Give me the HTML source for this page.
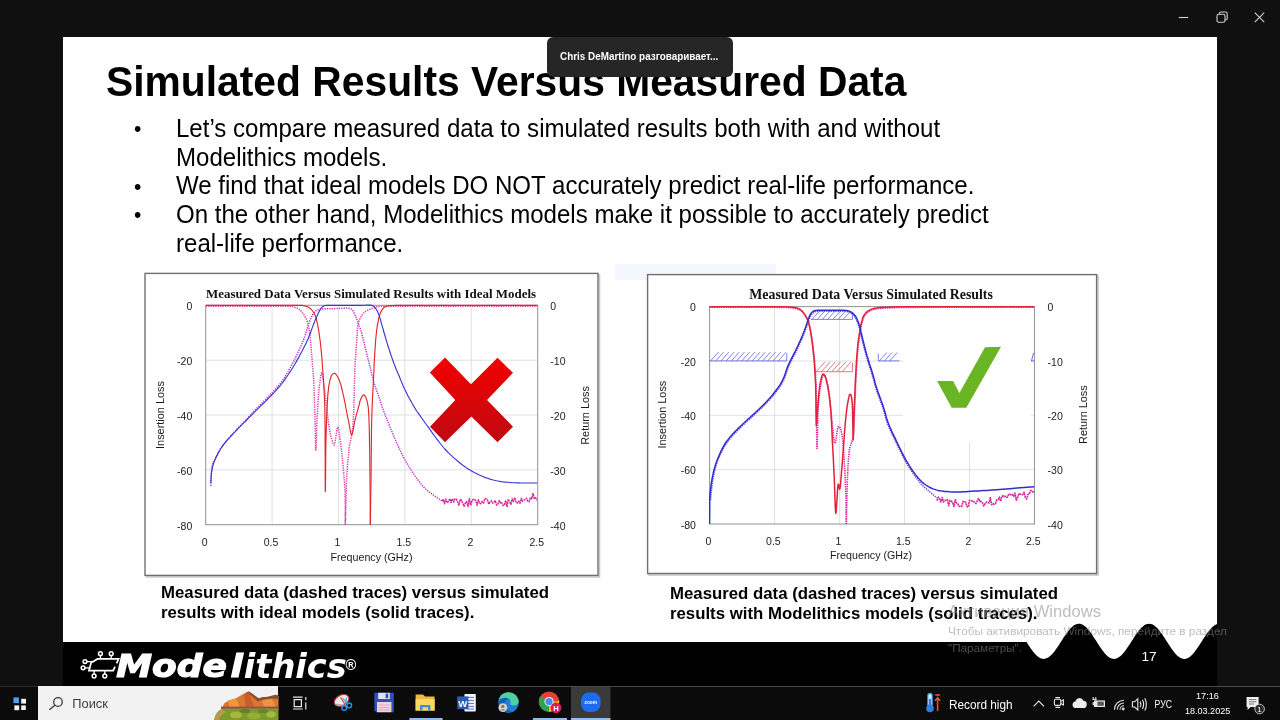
<!DOCTYPE html>
<html lang="ru">
<head>
<meta charset="utf-8">
<title>Simulated Results Versus Measured Data</title>
<style>
*{margin:0;padding:0;box-sizing:border-box}
html,body{width:1280px;height:720px;overflow:hidden;background:#101010;font-family:"Liberation Sans",sans-serif}
.abs{position:absolute}
#slide{left:63px;top:37px;width:1154px;height:605px;background:#ffffff}
#band{left:63px;top:642px;width:1154px;height:44px;background:#000}
#title{left:106px;top:57.6px;transform:scaleY(1.035);transform-origin:0 0;font-weight:bold;font-size:40.8px;line-height:47px;color:#000;white-space:nowrap;letter-spacing:0}
.bl{left:176px;transform:scaleY(1.035);transform-origin:0 0;font-size:24.06px;line-height:28.9px;color:#000;white-space:nowrap}
.dot{left:134.1px;margin-top:-0.7px;transform:scaleY(1.035);transform-origin:0 0;font-size:21px;line-height:29.6px;color:#000}
.cap{font-weight:bold;font-size:16.8px;line-height:20.3px;color:#000;white-space:nowrap}
#tip{left:547px;top:37px;width:186px;height:40px;background:#262626;border-radius:6px;color:#fff;font-weight:bold;font-size:10.7px;line-height:39.4px;padding-left:13px;white-space:nowrap}
#tip span{display:inline-block;transform:scaleX(0.925);transform-origin:0 50%}
#taskbar{left:0;top:686px;width:1280px;height:34px;background:#0b0b0b}
#search{left:38px;top:686px;width:240px;height:34px;background:#f2f2f2;overflow:hidden}
#charts{left:0;top:0}
</style>
</head>
<body>
<div id="slide" class="abs"></div>
<div id="band" class="abs"></div>

<div id="title" class="abs">Simulated Results Versus Measured Data</div>

<div class="abs dot" style="top:114px">•</div>
<div class="abs bl" style="top:114px">Let’s compare measured data to simulated results both with and without</div>
<div class="abs bl" style="top:142.7px">Modelithics models.</div>
<div class="abs dot" style="top:171.4px">•</div>
<div class="abs bl" style="top:171.4px">We find that ideal models DO NOT accurately predict real-life performance.</div>
<div class="abs dot" style="top:200.1px">•</div>
<div class="abs bl" style="top:200.1px">On the other hand, Modelithics models make it possible to accurately predict</div>
<div class="abs bl" style="top:228.8px">real-life performance.</div>

<div class="abs cap" style="left:161px;top:583px">Measured data (dashed traces) versus simulated<br>results with ideal models (solid traces).</div>
<div class="abs cap" style="left:670px;top:584px">Measured data (dashed traces) versus simulated<br>results with Modelithics models (solid traces).</div>

<!--CHARTS_BEGIN-->
<svg id="charts" class="abs" width="1280" height="720" viewBox="0 0 1280 720" font-family="Liberation Sans, sans-serif">
<rect x="615" y="264" width="161" height="16" fill="#f3f6fc"/>
<rect x="146.5" y="274.9" width="453" height="302.0" fill="none" stroke="#c9c9c9" stroke-width="1.6"/>
<rect x="145" y="273.4" width="453" height="302.0" fill="#fff" stroke="#6f6f6f" stroke-width="1.4"/>
<path d="M272.1,305.3 V524.7 M338.5,305.3 V524.7 M404.9,305.3 V524.7 M471.3,305.3 V524.7 M205.7,360.2 H537.7 M205.7,415.0 H537.7 M205.7,469.9 H537.7 " stroke="#dcdcdc" stroke-width="0.9" fill="none"/>
<rect x="205.7" y="305.3" width="332.00000000000006" height="219.40000000000003" fill="none" stroke="#969696" stroke-width="1.05"/>
<!--c1-->
<clipPath id="cp1"><rect x="205.7" y="303.8" width="332.00000000000006" height="221.90000000000003"/></clipPath>
<g clip-path="url(#cp1)">
<path d="M205.7,306.2 L210.6,306.2 L217.4,306.2 L225.5,306.2 L234.0,306.2 L242.5,306.2 L250.0,306.2 L257.1,306.2 L264.4,306.2 L271.5,306.2 L278.1,306.3 L283.8,306.3 L288.3,306.4 L291.3,306.5 L292.9,306.6 L293.7,306.8 L294.1,307.0 L294.3,307.2 L295.0,307.5 L295.9,307.8 L296.8,308.1 L297.6,308.4 L298.4,308.8 L299.2,309.3 L300.0,310.0 L300.9,310.9 L301.7,311.9 L302.6,313.0 L303.5,314.2 L304.3,315.4 L305.0,316.7 L305.7,318.0 L306.3,319.2 L306.9,320.5 L307.4,321.9 L307.9,323.4 L308.3,325.0 L308.7,326.7 L309.0,328.4 L309.3,330.2 L309.5,332.2 L309.7,334.3 L310.0,336.7 L310.3,339.3 L310.6,342.2 L310.9,345.3 L311.1,348.5 L311.4,351.8 L311.7,355.0 L312.0,358.3 L312.3,361.6 L312.5,365.0 L312.8,368.4 L313.1,371.7 L313.3,375.0 L313.5,378.1 L313.7,380.9 L313.8,383.7 L313.9,386.6 L314.1,389.8 L314.2,393.3 L314.3,397.2 L314.5,401.5 L314.6,405.9 L314.7,410.5 L314.9,415.3 L315.0,420.0 L315.1,425.5 L315.3,432.0 L315.4,438.5 L315.5,444.3 L315.6,448.4 L315.8,450.0 L316.0,448.4 L316.2,444.3 L316.4,438.4 L316.6,431.9 L316.8,425.4 L317.0,420.0 L317.2,415.5 L317.5,411.0 L317.7,406.7 L318.0,402.6 L318.2,398.6 L318.5,395.0 L318.8,391.6 L319.1,388.3 L319.5,385.2 L319.9,382.5 L320.2,380.0 L320.5,378.0 L320.8,376.3 L321.0,374.8 L321.2,373.7 L321.5,373.0 L321.7,372.7 L322.0,373.0 L322.3,373.9 L322.6,375.3 L322.9,377.1 L323.2,379.4 L323.6,382.1 L324.0,385.0 L324.4,388.4 L324.9,392.5 L325.4,396.9 L326.0,401.4 L326.5,405.9 L327.0,410.0 L327.5,413.9 L328.0,417.9 L328.4,421.8 L328.9,425.4 L329.4,428.9 L330.0,432.0 L330.6,434.9 L331.3,437.8 L332.1,440.4 L332.8,442.6 L333.4,444.2 L334.0,445.0 L334.4,444.8 L334.8,443.6 L335.1,441.9 L335.4,439.8 L335.7,437.8 L336.0,436.0 L336.3,434.2 L336.6,432.1 L337.0,429.9 L337.3,428.1 L337.6,427.1 L338.0,427.0 L338.4,428.1 L338.8,430.1 L339.2,432.9 L339.6,436.1 L340.1,439.5 L340.5,443.0 L341.0,446.6 L341.5,450.7 L342.0,454.9 L342.4,459.3 L342.9,463.7 L343.3,468.0 L343.7,472.1 L344.0,476.1 L344.3,480.1 L344.6,484.1 L344.8,488.4 L345.0,493.0 L345.1,498.3 L345.2,504.3 L345.3,510.6 L345.3,516.4 L345.3,521.4 L345.3,525.0" fill="none" stroke="#e23aa8" stroke-width="1.5" stroke-dasharray="1.3 1.1" stroke-linejoin="round" opacity="1"/>
<path d="M345.3,525.0 L345.4,522.2 L345.5,518.4 L345.6,513.9 L345.7,509.0 L345.9,504.3 L346.0,500.0 L346.1,496.3 L346.2,492.7 L346.2,489.3 L346.3,485.8 L346.5,482.1 L346.7,478.0 L347.0,473.3 L347.4,468.0 L347.8,462.4 L348.3,457.0 L348.8,452.1 L349.2,448.0 L349.6,444.9 L350.1,442.5 L350.5,440.6 L350.9,438.9 L351.3,437.1 L351.7,435.0 L352.0,432.8 L352.3,430.6 L352.6,428.4 L352.9,425.9 L353.1,423.2 L353.3,420.0 L353.5,416.2 L353.7,412.0 L353.8,407.4 L353.9,402.6 L354.1,397.9 L354.2,393.3 L354.3,388.8 L354.4,384.4 L354.6,379.9 L354.7,375.4 L354.8,371.0 L355.0,366.7 L355.2,362.4 L355.5,358.0 L355.8,353.7 L356.1,349.5 L356.4,345.5 L356.7,341.7 L356.9,338.2 L357.1,334.8 L357.3,331.6 L357.5,328.6 L357.8,325.8 L358.3,323.3 L358.9,321.1 L359.7,319.1 L360.5,317.4 L361.4,315.9 L362.3,314.5 L363.3,313.3 L364.4,312.2 L365.5,311.4 L366.8,310.7 L368.0,310.1 L369.1,309.6 L370.0,309.2 L370.7,308.9 L371.2,308.7 L371.7,308.6 L372.1,308.6 L372.6,308.5 L373.3,308.3 L374.1,308.0 L374.8,307.7 L375.6,307.3 L376.7,306.9 L378.1,306.6 L380.0,306.4 L382.0,306.3 L383.8,306.2 L386.0,306.2 L389.1,306.2 L393.6,306.2 L400.0,306.2 L408.8,306.2 L419.7,306.2 L432.0,306.2 L445.0,306.2 L457.9,306.2 L470.0,306.2 L482.2,306.2 L495.2,306.2 L508.1,306.2 L520.1,306.2 L530.2,306.2 L537.5,306.2" fill="none" stroke="#e23aa8" stroke-width="1.5" stroke-dasharray="1.3 1.1" stroke-linejoin="round" opacity="1"/>
<path d="M210.8,486.0 L210.8,484.7 L210.9,482.8 L210.9,480.6 L211.0,478.3 L211.1,476.0 L211.2,474.0 L211.4,472.1 L211.5,470.3 L211.7,468.5 L212.0,466.8 L212.2,465.3 L212.5,464.0 L212.8,463.1 L213.0,462.5 L213.2,462.0 L213.5,461.6 L214.0,461.0 L214.5,460.0 L215.2,458.6 L216.0,456.9 L217.0,455.1 L217.9,453.1 L219.0,451.2 L220.0,449.5 L221.0,447.9 L222.0,446.4 L223.1,445.0 L224.2,443.5 L225.4,442.0 L226.7,440.4 L228.2,438.7 L229.8,436.8 L231.6,435.0 L233.3,433.1 L235.0,431.3 L236.7,429.5 L238.2,427.9 L239.7,426.3 L241.2,424.8 L242.7,423.3 L244.2,421.7 L245.8,420.0 L247.5,418.2 L249.2,416.3 L251.0,414.4 L252.8,412.4 L254.7,410.4 L256.7,408.3 L258.8,406.2 L261.0,404.0 L263.3,401.8 L265.6,399.5 L267.8,397.2 L270.0,395.0 L272.1,392.8 L274.1,390.6 L276.1,388.5 L278.1,386.3 L279.9,384.0 L281.7,381.7 L283.4,379.3 L285.0,376.8 L286.5,374.3 L288.0,371.8 L289.4,369.2 L290.8,366.7 L292.2,364.2 L293.5,361.6 L294.8,359.1 L296.0,356.6 L297.2,354.1 L298.3,351.7 L299.4,349.4 L300.5,347.1 L301.5,344.9 L302.4,342.7 L303.3,340.5 L304.2,338.3 L305.0,336.0 L305.7,333.7 L306.4,331.3 L307.1,329.1 L307.7,326.9 L308.3,325.0 L308.9,323.3 L309.5,321.7 L310.1,320.3 L310.6,319.0 L311.1,317.8 L311.7,316.7 L312.2,315.6 L312.7,314.7 L313.2,313.8 L313.8,313.1 L314.4,312.4 L315.0,311.7 L315.6,311.1 L316.2,310.6 L316.9,310.2 L317.7,309.8 L318.7,309.5 L320.0,309.2 L321.7,309.0 L323.7,308.9 L325.9,308.8 L328.3,308.8 L330.8,308.7 L333.3,308.7 L336.0,308.6 L339.0,308.4 L342.2,308.2 L345.2,308.1 L347.9,308.1 L350.0,308.5 L351.5,309.2 L352.6,310.1 L353.3,311.2 L353.9,312.5 L354.4,313.7 L355.0,315.0 L355.6,316.3 L356.2,317.6 L356.8,318.9 L357.3,320.3 L357.8,321.8 L358.3,323.3 L358.9,324.8 L359.4,326.3 L360.0,327.8 L360.5,329.4 L361.1,331.2 L361.7,333.3 L362.3,335.7 L363.0,338.4 L363.7,341.2 L364.4,344.2 L365.1,347.1 L365.8,350.0 L366.5,352.8 L367.2,355.6 L367.9,358.4 L368.6,361.1 L369.3,363.9 L370.0,366.7 L370.7,369.5 L371.3,372.2 L372.0,375.0 L372.7,377.8 L373.4,380.5 L374.2,383.3 L375.1,386.2 L376.1,389.1 L377.2,392.1 L378.2,394.9 L379.2,397.6 L380.0,400.0 L380.6,401.9 L381.0,403.3 L381.4,404.5 L381.8,405.8 L382.4,407.5 L383.3,410.0 L384.6,413.3 L386.1,417.3 L387.9,421.8 L389.7,426.4 L391.6,430.9 L393.3,435.0 L395.0,438.9 L396.6,442.7 L398.3,446.4 L400.0,450.0 L401.6,453.4 L403.3,456.7 L405.0,459.8 L406.6,462.7 L408.3,465.5 L410.0,468.2 L411.6,470.8 L413.3,473.3 L415.0,475.8 L416.6,478.2 L418.3,480.5 L420.0,482.7 L421.6,484.8 L423.3,486.7 L425.0,488.4 L426.7,489.9 L428.4,491.3 L430.1,492.6 L431.7,493.8 L433.3,495.0 L434.9,496.2 L436.6,497.4 L438.3,498.5 L439.8,499.5 L441.1,500.4 L442.0,501.0" fill="none" stroke="#c62fd0" stroke-width="1.5" stroke-dasharray="1.3 1.1" stroke-linejoin="round" opacity="1"/>
<path d="M442.0,501.0 L443.3,499.6 L444.6,503.8 L445.9,498.9 L447.2,502.8 L448.5,501.4 L449.8,498.8 L451.1,502.6 L452.4,498.6 L453.7,501.9 L455.0,498.9 L456.3,499.1 L457.6,501.9 L458.9,505.2 L460.2,499.3 L461.5,500.2 L462.8,503.6 L464.1,506.3 L465.4,503.1 L466.7,501.6 L468.0,506.5 L469.3,498.7 L470.6,505.5 L471.9,500.7 L473.2,499.5 L474.5,499.3 L475.8,500.9 L477.1,505.2 L478.4,499.8 L479.7,503.2 L481.0,503.7 L482.3,501.4 L483.6,502.9 L484.9,498.8 L486.2,498.8 L487.5,500.0 L488.8,504.0 L490.1,501.9 L491.4,500.9 L492.7,503.2 L494.0,502.1 L495.3,500.8 L496.6,505.0 L497.9,504.2 L499.2,500.4 L500.5,503.1 L501.8,502.7 L503.1,505.7 L504.4,504.4 L505.7,500.7 L507.0,506.5 L508.3,499.3 L509.6,501.8 L510.9,504.4 L512.2,499.1 L513.5,501.6 L514.8,497.5 L516.1,502.5 L517.4,503.0 L518.7,501.1 L520.0,503.3 L521.3,498.3 L522.6,501.2 L523.9,500.0 L525.2,499.6 L526.5,498.2 L527.8,501.1 L529.1,501.7 L530.4,497.5 L531.7,498.7 L533.0,493.4 L534.3,498.4 L535.6,497.7 L536.9,500.3" fill="none" stroke="#d6249a" stroke-width="1.5" stroke-dasharray="2 0.6" stroke-linejoin="round" opacity="1"/>
<path d="M205.7,305.4 L210.5,305.4 L217.1,305.4 L225.0,305.4 L233.5,305.4 L242.0,305.4 L250.0,305.4 L258.0,305.4 L266.6,305.4 L275.3,305.4 L283.5,305.4 L290.6,305.4 L296.0,305.4 L299.5,305.4 L301.3,305.4 L302.1,305.3 L302.3,305.3 L302.6,305.4 L303.3,305.6 L304.5,305.9 L305.6,306.2 L306.8,306.5 L307.9,307.0 L309.0,307.6 L310.0,308.3 L311.0,309.1 L311.9,310.0 L312.7,311.0 L313.5,312.1 L314.3,313.5 L315.0,315.0 L315.7,316.8 L316.3,318.8 L316.8,320.9 L317.3,323.2 L317.8,325.7 L318.3,328.3 L318.8,331.1 L319.2,334.0 L319.6,337.1 L320.1,340.3 L320.4,343.5 L320.8,346.7 L321.1,349.9 L321.4,353.0 L321.7,356.2 L322.0,359.5 L322.2,363.0 L322.5,366.7 L322.8,370.8 L323.1,375.1 L323.4,379.6 L323.7,384.2 L324.0,388.8 L324.2,393.3 L324.4,397.2 L324.6,400.5 L324.7,403.8 L324.8,407.8 L324.9,412.9 L325.0,420.0 L325.1,430.8 L325.1,445.1 L325.2,460.8 L325.2,475.3 L325.2,486.4 L325.3,491.7 L325.4,490.1 L325.5,483.2 L325.6,472.8 L325.7,460.9 L325.8,449.4 L326.0,440.0 L326.2,432.4 L326.4,425.1 L326.6,418.0 L326.9,411.4 L327.2,405.4 L327.5,400.0 L327.8,395.4 L328.2,391.4 L328.6,387.9 L329.0,384.9 L329.5,382.3 L330.0,380.0 L330.6,378.0 L331.2,376.3 L331.9,375.0 L332.7,374.0 L333.4,373.5 L334.2,373.3 L335.0,373.5 L335.8,374.2 L336.7,375.3 L337.6,376.7 L338.4,378.2 L339.2,380.0 L339.9,381.9 L340.6,384.0 L341.3,386.4 L341.9,389.0 L342.6,391.8 L343.3,395.0 L344.1,398.7 L345.0,403.0 L345.8,407.5 L346.7,412.0 L347.5,416.3 L348.3,420.0 L349.0,423.4 L349.6,426.9 L350.1,430.0 L350.6,432.6 L351.2,434.4 L351.7,435.0 L352.3,434.2 L352.8,432.1 L353.4,429.2 L353.9,425.9 L354.5,422.7 L355.0,420.0 L355.6,417.8 L356.1,415.7 L356.7,413.6 L357.3,411.7 L357.8,409.8 L358.3,408.0 L358.8,406.3 L359.2,404.6 L359.5,403.0 L359.9,401.5 L360.3,400.2 L360.8,399.0 L361.3,397.9 L361.9,396.8 L362.4,395.9 L363.0,395.2 L363.6,394.9 L364.2,395.0 L364.8,395.6 L365.4,396.5 L366.0,397.9 L366.5,399.5 L367.1,401.3 L367.5,403.3 L367.9,405.2 L368.2,407.0 L368.4,409.0 L368.6,411.7 L368.8,415.2 L369.0,420.0 L369.2,426.3 L369.4,434.0 L369.5,442.6 L369.7,451.7 L369.8,461.0 L369.9,470.0 L370.0,479.5 L370.1,490.0 L370.2,500.6 L370.2,510.6 L370.3,519.0 L370.3,525.0" fill="none" stroke="#e3262a" stroke-width="1.15" stroke-linejoin="round" opacity="1"/>
<path d="M370.3,525.0 L370.4,520.3 L370.5,513.9 L370.6,506.2 L370.7,497.8 L370.9,488.9 L371.0,480.0 L371.1,470.6 L371.2,460.2 L371.3,449.5 L371.4,438.8 L371.5,428.8 L371.7,420.0 L371.9,412.5 L372.2,405.9 L372.4,400.0 L372.7,394.4 L373.0,389.0 L373.3,383.3 L373.6,377.4 L373.9,371.5 L374.1,365.6 L374.4,360.0 L374.7,354.7 L375.0,350.0 L375.3,345.8 L375.5,342.1 L375.8,338.8 L376.1,335.7 L376.4,332.8 L376.7,330.0 L377.1,327.3 L377.4,324.9 L377.9,322.6 L378.3,320.5 L378.7,318.5 L379.2,316.7 L379.7,315.1 L380.2,313.6 L380.7,312.3 L381.3,311.1 L381.9,310.1 L382.5,309.2 L383.1,308.4 L383.7,307.8 L384.4,307.3 L385.1,306.9 L385.9,306.6 L386.7,306.3 L387.4,306.0 L388.0,305.9 L388.6,305.7 L389.5,305.6 L391.0,305.6 L393.3,305.5 L396.2,305.4 L399.5,305.4 L403.3,305.4 L407.9,305.4 L413.4,305.4 L420.0,305.4 L428.1,305.4 L437.6,305.4 L448.1,305.4 L459.0,305.4 L469.8,305.4 L480.0,305.4 L490.4,305.4 L501.5,305.4 L512.5,305.4 L522.7,305.4 L531.3,305.4 L537.5,305.4" fill="none" stroke="#e3262a" stroke-width="1.15" stroke-linejoin="round" opacity="1"/>
<path d="M210.8,483.3 L210.9,482.0 L211.0,480.2 L211.1,478.1 L211.2,475.9 L211.4,473.7 L211.7,471.7 L212.0,470.0 L212.3,468.3 L212.6,466.7 L213.1,465.1 L213.6,463.4 L214.2,461.7 L215.0,459.8 L215.9,457.8 L216.8,455.8 L217.9,453.8 L218.9,451.8 L220.0,450.0 L221.0,448.3 L222.0,446.8 L223.1,445.3 L224.2,443.9 L225.4,442.4 L226.7,440.8 L228.2,439.1 L229.8,437.3 L231.5,435.5 L233.2,433.6 L235.0,431.8 L236.7,430.0 L238.3,428.3 L240.0,426.7 L241.6,425.1 L243.2,423.4 L244.9,421.8 L246.7,420.0 L248.5,418.2 L250.4,416.3 L252.3,414.4 L254.2,412.4 L256.2,410.4 L258.3,408.3 L260.4,406.2 L262.7,404.0 L265.0,401.8 L267.3,399.5 L269.6,397.2 L271.7,395.0 L273.8,392.8 L275.8,390.6 L277.7,388.5 L279.6,386.3 L281.5,384.0 L283.3,381.7 L285.1,379.3 L286.8,376.8 L288.5,374.3 L290.1,371.8 L291.7,369.2 L293.3,366.7 L294.8,364.2 L296.3,361.6 L297.7,359.1 L299.1,356.6 L300.4,354.1 L301.7,351.7 L302.9,349.4 L304.1,347.1 L305.2,344.9 L306.3,342.7 L307.3,340.5 L308.3,338.3 L309.2,336.0 L310.1,333.7 L311.0,331.3 L311.8,329.1 L312.6,326.9 L313.3,325.0 L314.0,323.3 L314.6,321.8 L315.1,320.4 L315.6,319.2 L316.2,317.9 L316.7,316.7 L317.3,315.5 L317.8,314.2 L318.4,313.1 L318.9,312.0 L319.5,310.9 L320.0,310.0 L320.5,309.2 L321.1,308.4 L321.6,307.7 L322.2,307.1 L322.7,306.6 L323.3,306.2 L323.8,305.9 L324.2,305.7 L324.5,305.6 L325.1,305.5 L325.8,305.5 L327.0,305.4 L328.5,305.3 L330.4,305.3 L332.5,305.3 L334.8,305.3 L337.3,305.3 L340.0,305.3 L343.0,305.3 L346.5,305.3 L350.1,305.3 L353.7,305.3 L357.1,305.3 L360.0,305.3 L362.5,305.3 L364.8,305.2 L366.8,305.1 L368.6,305.0 L370.2,305.1 L371.7,305.4 L372.9,305.9 L373.9,306.5 L374.7,307.2 L375.4,308.0 L376.0,309.0 L376.7,310.0 L377.3,311.1 L377.9,312.4 L378.5,313.7 L379.0,315.1 L379.5,316.7 L380.0,318.3 L380.5,320.0 L381.0,321.8 L381.5,323.6 L382.1,325.6 L382.7,327.7 L383.3,330.0 L384.0,332.5 L384.8,335.3 L385.7,338.1 L386.6,341.1 L387.4,344.0 L388.3,346.7 L389.1,349.3 L389.9,351.8 L390.7,354.2 L391.5,356.6 L392.4,359.1 L393.3,361.7 L394.3,364.4 L395.4,367.2 L396.5,370.0 L397.7,372.8 L398.9,375.6 L400.0,378.3 L401.1,380.9 L402.2,383.4 L403.2,385.9 L404.3,388.4 L405.5,390.8 L406.7,393.3 L408.0,395.9 L409.4,398.5 L410.9,401.1 L412.3,403.7 L413.7,406.1 L415.0,408.3 L416.2,410.3 L417.4,412.0 L418.6,413.7 L419.7,415.2 L420.7,416.6 L421.7,418.0 L422.6,419.2 L423.3,420.3 L424.0,421.2 L424.7,422.3 L425.6,423.5 L426.7,425.0 L428.1,426.9 L429.7,429.2 L431.4,431.6 L433.2,434.1 L435.0,436.5 L436.7,438.8 L438.3,440.9 L439.9,443.0 L441.5,445.0 L443.1,447.0 L444.8,449.0 L446.7,451.0 L448.8,453.1 L451.0,455.2 L453.3,457.3 L455.7,459.4 L457.9,461.3 L460.0,463.0 L461.8,464.5 L463.5,465.7 L465.0,466.8 L466.5,467.9 L468.2,468.9 L470.0,470.0 L472.0,471.2 L474.2,472.4 L476.4,473.5 L478.7,474.7 L481.0,475.7 L483.3,476.7 L485.5,477.6 L487.8,478.3 L490.0,479.1 L492.2,479.7 L494.5,480.3 L496.7,480.8 L498.9,481.2 L501.1,481.6 L503.4,481.9 L505.6,482.1 L507.8,482.3 L510.0,482.5 L512.2,482.7 L514.4,482.8 L516.6,482.9 L518.8,482.9 L521.0,483.0 L523.3,483.0 L525.8,483.0 L528.5,483.0 L531.2,483.0 L533.8,483.0 L535.9,483.0 L537.5,483.0" fill="none" stroke="#3a36cf" stroke-width="1.15" stroke-linejoin="round" opacity="1"/>
</g>
<defs><linearGradient id="rg" x1="0" y1="0" x2="0" y2="1"><stop offset="0" stop-color="#f40000"/><stop offset="1" stop-color="#bf0a12"/></linearGradient></defs>
<polygon points="445,357.5 471,384.2 497.5,357.8 513,372.8 487,400 513,426.7 497.5,442.3 471.3,416.5 445,442.3 430,426.7 455.3,400 429.8,372.5" fill="url(#rg)"/>
<text x="371" y="297.8" font-family="Liberation Serif, serif" font-weight="bold" font-size="12.95" text-anchor="middle" fill="#111">Measured Data Versus Simulated Results with Ideal Models</text>
<text x="192.3" y="310.2" font-size="10.5" text-anchor="end" fill="#1a1a1a">0</text>
<text x="192.3" y="365.05" font-size="10.5" text-anchor="end" fill="#1a1a1a">-20</text>
<text x="192.3" y="419.9" font-size="10.5" text-anchor="end" fill="#1a1a1a">-40</text>
<text x="192.3" y="474.75" font-size="10.5" text-anchor="end" fill="#1a1a1a">-60</text>
<text x="192.3" y="529.6" font-size="10.5" text-anchor="end" fill="#1a1a1a">-80</text>
<text x="550.3" y="310.2" font-size="10.5" text-anchor="start" fill="#1a1a1a">0</text>
<text x="550.3" y="365.05" font-size="10.5" text-anchor="start" fill="#1a1a1a">-10</text>
<text x="550.3" y="419.9" font-size="10.5" text-anchor="start" fill="#1a1a1a">-20</text>
<text x="550.3" y="474.75" font-size="10.5" text-anchor="start" fill="#1a1a1a">-30</text>
<text x="550.3" y="529.6" font-size="10.5" text-anchor="start" fill="#1a1a1a">-40</text>
<text x="204.7" y="545.6" font-size="10.5" text-anchor="middle" fill="#1a1a1a">0</text>
<text x="271.1" y="545.6" font-size="10.5" text-anchor="middle" fill="#1a1a1a">0.5</text>
<text x="337.5" y="545.6" font-size="10.5" text-anchor="middle" fill="#1a1a1a">1</text>
<text x="403.9" y="545.6" font-size="10.5" text-anchor="middle" fill="#1a1a1a">1.5</text>
<text x="470.3" y="545.6" font-size="10.5" text-anchor="middle" fill="#1a1a1a">2</text>
<text x="536.7" y="545.6" font-size="10.5" text-anchor="middle" fill="#1a1a1a">2.5</text>
<text x="371.5" y="561.4" font-size="10.7" text-anchor="middle" fill="#1a1a1a">Frequency (GHz)</text>
<text transform="translate(163.8,415) rotate(-90)" font-size="10.9" text-anchor="middle" fill="#1a1a1a">Insertion Loss</text>
<text transform="translate(589,415.4) rotate(-90)" font-size="10.9" text-anchor="middle" fill="#1a1a1a">Return Loss</text>
<rect x="649.1" y="276.1" width="448.9999999999999" height="298.9" fill="none" stroke="#c9c9c9" stroke-width="1.6"/>
<rect x="647.6" y="274.6" width="448.9999999999999" height="298.9" fill="#fff" stroke="#6f6f6f" stroke-width="1.4"/>
<path d="M774.6,306.6 V524.0 M839.6,306.6 V524.0 M904.5,306.6 V524.0 M969.5,306.6 V524.0 M709.6,361.0 H1034.5 M709.6,415.3 H1034.5 M709.6,469.7 H1034.5 " stroke="#dcdcdc" stroke-width="0.9" fill="none"/>
<rect x="709.6" y="306.6" width="324.9" height="217.39999999999998" fill="none" stroke="#969696" stroke-width="1.05"/>
<rect x="903" y="308" width="128" height="134" fill="#fff"/>
<path d="M709.6,360.9 H786.8 M786.8,353.2 V360.9 M710.6,360.9 L718.4,352.2 M715.8,360.9 L723.6,352.2 M721.0,360.9 L728.8,352.2 M726.2,360.9 L734.0,352.2 M731.4,360.9 L739.2,352.2 M736.6,360.9 L744.4,352.2 M741.8,360.9 L749.6,352.2 M747.0,360.9 L754.8,352.2 M752.2,360.9 L760.0,352.2 M757.4,360.9 L765.2,352.2 M762.6,360.9 L770.4,352.2 M767.8,360.9 L775.6,352.2 M773.0,360.9 L780.8,352.2 M778.2,360.9 L786.0,352.2 " stroke="#5a5be0" stroke-width="0.9" fill="none" opacity="0.85"/>
<path d="M811,319.4 H852.5 M852.5,312 V319.4 M812.0,319.4 L819.6,311 M817.2,319.4 L824.8,311 M822.4,319.4 L830.0,311 M827.6,319.4 L835.2,311 M832.8,319.4 L840.4,311 M838.0,319.4 L845.6,311 M843.2,319.4 L850.8,311 " stroke="#5a5be0" stroke-width="0.9" fill="none" opacity="0.85"/>
<path d="M815.2,371.7 H852.5 M852.5,362.9 V371.7 M816.2,371.7 L825.0,361.9 M821.4,371.7 L830.2,361.9 M826.6,371.7 L835.4,361.9 M831.8,371.7 L840.6,361.9 M837.0,371.7 L845.8,361.9 M842.2,371.7 L851.0,361.9 " stroke="#e0505a" stroke-width="0.9" fill="none" opacity="0.85"/>
<path d="M878.3,360.9 H899.4 M878.3,353.6 V360.9 M879.3,360.9 L886.8,352.6 M884.5,360.9 L892.0,352.6 M889.7,360.9 L897.2,352.6 " stroke="#5a5be0" stroke-width="0.9" fill="none" opacity="0.85"/>
<path d="M1031,360.9 H1034 M1031.5,360.9 L1033.5,353" stroke="#5a5be0" stroke-width="0.9" fill="none"/>
<clipPath id="cp2"><rect x="708.8000000000001" y="305.0" width="325.7" height="219.99999999999997"/></clipPath>
<g clip-path="url(#cp2)">
<path d="M709.6,307.3 L714.1,307.3 L720.3,307.3 L727.6,307.3 L735.4,307.3 L743.1,307.3 L750.0,307.3 L756.4,307.3 L762.9,307.3 L769.3,307.3 L775.2,307.3 L780.6,307.4 L785.0,307.5 L788.4,307.6 L791.0,307.8 L792.9,308.0 L794.4,308.2 L795.7,308.5 L797.0,308.8 L798.3,309.2 L799.2,309.6 L800.0,310.0 L800.7,310.5 L801.3,311.0 L802.0,311.6 L802.7,312.2 L803.3,312.9 L803.8,313.6 L804.3,314.3 L804.9,315.1 L805.4,316.0 L806.0,316.9 L806.6,317.9 L807.2,318.9 L807.7,320.0 L808.3,321.3 L808.8,322.7 L809.3,324.3 L809.7,326.0 L810.1,327.8 L810.5,329.7 L810.9,331.9 L811.3,334.3 L811.7,336.9 L812.2,339.8 L812.6,342.9 L813.0,346.1 L813.4,349.4 L813.8,352.7 L814.1,356.1 L814.5,359.7 L814.8,363.4 L815.0,367.1 L815.3,370.8 L815.5,374.3 L815.7,377.3 L815.8,379.8 L816.0,382.3 L816.1,385.2 L816.2,389.0 L816.3,394.3 L816.4,402.4 L816.5,413.2 L816.6,424.9 L816.7,435.9 L816.9,444.3 L817.0,448.5 L817.1,447.5 L817.3,442.5 L817.4,434.9 L817.6,426.4 L817.8,418.2 L818.0,412.0 L818.2,407.5 L818.5,403.6 L818.8,400.1 L819.0,396.9 L819.4,393.9 L819.7,391.0 L820.1,388.2 L820.5,385.6 L820.9,383.2 L821.4,381.0 L821.8,379.2 L822.2,377.7 L822.6,376.6 L822.9,375.8 L823.2,375.4 L823.5,375.1 L823.9,375.1 L824.2,375.2 L824.5,375.4 L824.9,375.8 L825.2,376.4 L825.6,377.1 L825.9,378.1 L826.3,379.3 L826.7,380.7 L827.1,382.4 L827.6,384.2 L828.0,386.3 L828.4,388.5 L828.8,391.0 L829.2,393.8 L829.5,396.9 L829.8,400.2 L830.2,403.6 L830.5,406.9 L830.8,410.0 L831.1,412.9 L831.4,415.7 L831.6,418.5 L831.9,421.2 L832.2,423.9 L832.5,426.7 L832.9,429.9 L833.2,433.5 L833.6,437.1 L834.1,440.2 L834.5,442.5 L835.0,443.3 L835.5,442.2 L836.0,439.3 L836.6,435.5 L837.1,431.6 L837.7,428.4 L838.3,426.7 L838.9,426.4 L839.6,427.0 L840.2,428.2 L840.9,430.1 L841.5,432.4 L842.0,435.0 L842.5,438.1 L842.9,441.8 L843.2,445.9 L843.6,450.4 L843.9,455.2 L844.2,460.0 L844.5,465.1 L844.8,470.6 L845.1,476.3 L845.4,482.1 L845.6,487.8 L845.8,493.3 L846.0,498.9 L846.1,504.9 L846.1,510.7 L846.2,516.1 L846.3,520.7 L846.3,524.0" fill="none" stroke="#e0209a" stroke-width="1.6" stroke-dasharray="1.3 1.0" stroke-linejoin="round" opacity="1"/>
<path d="M846.3,524.0 L846.4,518.6 L846.6,510.9 L846.8,501.9 L847.0,492.6 L847.3,483.8 L847.5,476.7 L847.8,471.0 L848.0,466.0 L848.3,461.7 L848.6,457.9 L848.9,454.5 L849.2,451.7 L849.5,449.6 L849.7,448.2 L850.0,447.4 L850.2,446.8 L850.5,446.1 L850.8,445.0 L851.2,443.7 L851.6,442.5 L852.1,441.1 L852.5,439.6 L852.9,437.6 L853.3,435.0 L853.6,431.8 L853.8,428.2 L854.0,424.1 L854.2,419.7 L854.4,415.0 L854.6,410.0 L854.8,404.5 L855.1,398.4 L855.4,392.0 L855.6,385.6 L855.9,379.5 L856.2,374.0 L856.5,369.1 L856.7,364.5 L857.0,360.3 L857.3,356.3 L857.6,352.5 L857.9,349.0 L858.2,345.7 L858.6,342.6 L859.0,339.8 L859.4,337.2 L859.7,334.8 L860.1,332.5 L860.4,330.4 L860.8,328.6 L861.1,326.9 L861.4,325.3 L861.7,323.9 L862.1,322.5 L862.5,321.2 L862.8,319.9 L863.2,318.8 L863.6,317.7 L864.1,316.7 L864.6,315.8 L865.2,314.9 L865.8,314.2 L866.4,313.4 L867.1,312.8 L867.8,312.2 L868.7,311.6 L869.6,311.1 L870.6,310.6 L871.6,310.1 L872.7,309.7 L874.0,309.3 L875.4,309.0 L877.0,308.7 L878.7,308.5 L880.5,308.4 L882.5,308.2 L884.6,308.1 L887.0,308.0 L889.2,307.9 L891.2,307.8 L893.3,307.6 L896.0,307.5 L899.8,307.5 L905.0,307.4 L911.8,307.4 L919.9,307.3 L929.0,307.3 L938.9,307.3 L949.3,307.3 L960.0,307.3 L972.2,307.3 L986.1,307.3 L1000.7,307.3 L1014.5,307.3 L1026.2,307.3 L1034.5,307.3" fill="none" stroke="#e0209a" stroke-width="1.6" stroke-dasharray="1.3 1.0" stroke-linejoin="round" opacity="1"/>
<path d="M710.5,500.0 L710.7,498.0 L710.9,495.3 L711.2,492.1 L711.6,488.7 L712.0,485.2 L712.5,482.0 L713.0,479.0 L713.6,475.9 L714.2,472.9 L714.8,469.9 L715.6,466.9 L716.5,464.0 L717.5,461.1 L718.6,458.2 L719.9,455.3 L721.2,452.6 L722.5,449.9 L723.8,447.5 L725.1,445.3 L726.4,443.3 L727.7,441.5 L729.1,439.7 L730.5,437.9 L732.2,436.0 L734.0,434.0 L736.1,431.9 L738.2,429.8 L740.4,427.6 L742.6,425.5 L744.7,423.5 L746.8,421.5 L748.9,419.6 L751.0,417.8 L753.0,415.9 L755.1,414.0 L757.2,412.0 L759.3,410.0 L761.4,408.1 L763.5,406.1 L765.5,404.0 L767.6,401.8 L769.7,399.5 L771.9,397.0 L774.1,394.3 L776.3,391.5 L778.5,388.7 L780.5,385.8 L782.2,383.0 L783.6,380.2 L784.8,377.4 L785.8,374.5 L786.7,371.7 L787.7,368.8 L788.8,366.0 L790.1,363.2 L791.5,360.3 L793.0,357.5 L794.5,354.7 L795.9,352.0 L797.2,349.3 L798.4,346.7 L799.6,344.0 L800.8,341.5 L801.8,339.0 L802.9,336.6 L803.8,334.3 L804.7,332.1 L805.4,330.0 L806.2,328.0 L806.8,326.1 L807.4,324.3 L808.0,322.7 L808.5,321.3 L808.9,320.0 L809.3,318.9 L809.7,317.8 L810.1,316.9 L810.5,316.0 L811.0,315.2 L811.5,314.4 L812.1,313.8 L812.7,313.2 L813.2,312.7 L813.8,312.3 L814.3,312.0 L814.7,311.8 L815.1,311.6 L815.6,311.5 L816.2,311.5 L817.0,311.4 L818.0,311.3 L819.1,311.3 L820.3,311.2 L821.6,311.2 L823.2,311.2 L825.0,311.2 L827.2,311.2 L829.8,311.2 L832.6,311.2 L835.4,311.2 L837.9,311.2 L840.0,311.2 L841.6,311.2 L842.9,311.2 L844.0,311.2 L844.9,311.3 L845.8,311.4 L846.7,311.5 L847.6,311.7 L848.4,311.9 L849.1,312.2 L849.8,312.5 L850.5,312.8 L851.2,313.3 L851.9,313.8 L852.6,314.4 L853.3,315.0 L854.0,315.7 L854.7,316.5 L855.3,317.5 L855.9,318.7 L856.5,320.0 L857.1,321.4 L857.7,322.9 L858.2,324.4 L858.7,326.0 L859.2,327.5 L859.6,329.1 L860.0,330.7 L860.3,332.4 L860.7,334.1 L861.2,336.0 L861.7,338.0 L862.2,340.2 L862.8,342.5 L863.4,344.9 L863.9,347.1 L864.5,349.3 L865.0,351.3 L865.6,353.3 L866.1,355.1 L866.6,357.0 L867.2,359.0 L867.8,361.0 L868.4,363.1 L869.1,365.3 L869.8,367.4 L870.6,369.7 L871.3,372.0 L872.0,374.3 L872.7,376.7 L873.3,379.0 L874.0,381.5 L874.6,384.0 L875.4,386.6 L876.2,389.3 L877.2,392.2 L878.3,395.2 L879.5,398.4 L880.6,401.6 L881.8,404.7 L882.8,407.7 L883.7,410.6 L884.5,413.3 L885.2,416.0 L885.9,418.7 L886.8,421.4 L887.8,424.3 L889.0,427.3 L890.4,430.4 L891.8,433.5 L893.3,436.6 L894.8,439.7 L896.2,442.7 L897.6,445.6 L899.0,448.5 L900.4,451.3 L901.7,454.0 L903.1,456.7 L904.5,459.3 L905.9,461.8 L907.2,464.2 L908.6,466.5 L910.0,468.7 L911.4,470.9 L912.8,473.0 L914.3,475.1 L915.7,477.1 L917.2,479.1 L918.8,481.0 L920.2,482.8 L921.7,484.5 L923.1,486.0 L924.6,487.4 L926.0,488.6 L927.4,489.8 L928.7,490.9 L930.0,492.0 L931.3,493.2 L932.7,494.3 L934.0,495.5 L935.2,496.5 L936.3,497.4 L937.0,498.0" fill="none" stroke="#7a3fe0" stroke-width="1.6" stroke-dasharray="1.3 1.0" stroke-linejoin="round" opacity="1"/>
<path d="M937.0,500.7 L938.3,497.1 L939.6,498.8 L940.9,502.0 L942.2,497.4 L943.5,502.0 L944.8,500.4 L946.1,500.1 L947.4,499.6 L948.7,505.6 L950.0,500.2 L951.3,501.2 L952.6,502.4 L953.9,506.4 L955.2,499.8 L956.5,502.9 L957.8,503.7 L959.1,506.5 L960.4,506.0 L961.7,506.4 L963.0,501.4 L964.3,502.6 L965.6,502.1 L966.9,506.5 L968.2,507.1 L969.5,500.4 L970.8,500.6 L972.1,501.0 L973.4,500.9 L974.7,502.9 L976.0,503.6 L977.3,500.8 L978.6,498.5 L979.9,501.8 L981.2,501.3 L982.5,502.8 L983.8,505.9 L985.1,503.6 L986.4,502.0 L987.7,502.7 L989.0,503.1 L990.3,497.7 L991.6,504.7 L992.9,503.6 L994.2,504.2 L995.5,503.5 L996.8,499.9 L998.1,499.7 L999.4,497.0 L1000.7,501.2 L1002.0,496.1 L1003.3,495.9 L1004.6,496.8 L1005.9,496.2 L1007.2,497.4 L1008.5,494.7 L1009.8,494.0 L1011.1,495.1 L1012.4,494.4 L1013.7,496.3 L1015.0,493.2 L1016.3,500.1 L1017.6,497.6 L1018.9,493.5 L1020.2,494.1 L1021.5,494.6 L1022.8,494.5 L1024.1,492.2 L1025.4,498.1 L1026.7,499.0 L1028.0,494.3 L1029.3,494.2 L1030.6,490.6 L1031.9,490.5 L1033.2,492.2 L1034.5,491.3" fill="none" stroke="#d6249a" stroke-width="1.6" stroke-dasharray="2 0.6" stroke-linejoin="round" opacity="1"/>
<path d="M709.6,306.7 L714.1,306.7 L720.3,306.7 L727.6,306.7 L735.4,306.7 L743.1,306.7 L750.0,306.7 L756.4,306.7 L762.9,306.7 L769.3,306.7 L775.3,306.7 L780.6,306.7 L785.0,306.8 L788.4,306.9 L790.9,307.1 L792.7,307.2 L794.2,307.4 L795.4,307.7 L796.7,308.0 L797.9,308.4 L798.9,308.8 L799.7,309.2 L800.4,309.7 L801.0,310.2 L801.7,310.8 L802.3,311.4 L802.9,312.0 L803.5,312.7 L804.0,313.4 L804.5,314.1 L805.0,315.0 L805.6,315.9 L806.1,316.9 L806.7,317.9 L807.3,319.0 L807.8,320.3 L808.3,321.7 L808.8,323.3 L809.2,325.0 L809.6,326.8 L810.0,328.7 L810.4,330.9 L810.8,333.3 L811.2,335.9 L811.7,338.8 L812.1,341.9 L812.5,345.1 L812.9,348.4 L813.3,351.7 L813.6,355.1 L814.0,358.7 L814.3,362.4 L814.5,366.1 L814.8,369.8 L815.0,373.3 L815.2,376.6 L815.3,379.6 L815.5,382.6 L815.6,385.8 L815.7,389.3 L815.8,393.3 L815.9,398.5 L816.0,404.9 L816.0,411.6 L816.1,417.8 L816.2,422.8 L816.3,425.5 L816.5,425.7 L816.6,424.0 L816.8,421.0 L817.0,417.3 L817.3,413.4 L817.5,410.0 L817.7,406.8 L818.0,403.4 L818.3,399.9 L818.6,396.3 L818.9,393.0 L819.2,390.0 L819.6,387.3 L820.0,384.7 L820.4,382.3 L820.9,380.1 L821.3,378.2 L821.7,376.7 L822.1,375.6 L822.4,374.8 L822.7,374.4 L823.0,374.1 L823.4,374.1 L823.7,374.2 L824.0,374.4 L824.4,374.8 L824.7,375.4 L825.1,376.1 L825.4,377.1 L825.8,378.3 L826.2,379.7 L826.6,381.3 L827.0,383.2 L827.5,385.2 L827.9,387.5 L828.3,390.0 L828.7,392.7 L829.2,395.6 L829.6,398.6 L830.0,402.0 L830.4,405.8 L830.8,410.0 L831.1,414.8 L831.4,420.1 L831.7,425.8 L832.0,431.7 L832.2,437.6 L832.5,443.3 L832.8,448.8 L833.1,454.3 L833.4,459.8 L833.6,465.3 L833.9,470.9 L834.2,476.7 L834.5,483.4 L834.7,491.1 L835.0,498.9 L835.2,505.8 L835.5,510.9 L835.8,513.3 L836.1,512.0 L836.5,507.5 L836.9,501.2 L837.3,494.5 L837.6,488.6 L838.0,485.0 L838.3,484.1 L838.7,484.9 L839.0,486.7 L839.3,488.4 L839.6,489.2 L840.0,488.3 L840.4,485.5 L840.8,481.4 L841.2,476.4 L841.6,471.0 L842.1,465.4 L842.5,460.0 L842.9,454.5 L843.4,448.7 L843.8,442.6 L844.2,436.8 L844.6,431.3 L845.0,426.7 L845.3,422.9 L845.6,419.7 L845.9,416.9 L846.2,414.5 L846.4,412.2 L846.7,410.0 L847.0,407.9 L847.2,406.0 L847.5,404.3 L847.8,402.8 L848.0,401.3 L848.3,400.0 L848.6,398.7 L848.9,397.4 L849.1,396.2 L849.4,395.2 L849.7,394.5 L850.0,394.2 L850.3,394.2 L850.6,394.5 L850.9,395.0 L851.2,395.9 L851.5,396.9 L851.7,398.3 L851.9,399.9 L852.1,401.6 L852.2,403.7 L852.4,406.0 L852.5,408.8 L852.6,412.0 L852.7,416.5 L852.8,422.4 L852.9,428.7 L853.0,434.4 L853.1,438.5 L853.2,440.0 L853.3,438.4 L853.5,434.5 L853.6,429.0 L853.8,422.6 L854.0,416.1 L854.2,410.0 L854.4,404.1 L854.7,397.8 L855.0,391.3 L855.2,384.9 L855.5,378.8 L855.8,373.3 L856.1,368.4 L856.3,363.8 L856.6,359.5 L856.9,355.6 L857.2,351.8 L857.5,348.3 L857.8,345.0 L858.2,341.9 L858.6,339.1 L859.0,336.4 L859.3,334.0 L859.7,331.7 L860.0,329.6 L860.4,327.8 L860.7,326.1 L861.0,324.5 L861.3,323.1 L861.7,321.7 L862.1,320.4 L862.4,319.1 L862.8,318.0 L863.2,316.9 L863.7,315.9 L864.2,315.0 L864.8,314.1 L865.4,313.4 L866.0,312.6 L866.7,312.0 L867.4,311.4 L868.3,310.8 L869.2,310.3 L870.2,309.8 L871.2,309.4 L872.3,309.0 L873.6,308.6 L875.0,308.3 L876.6,308.0 L878.3,307.8 L880.1,307.6 L882.1,307.5 L884.3,307.3 L886.7,307.2 L888.9,307.1 L891.0,307.0 L893.1,306.9 L895.9,306.9 L899.7,306.8 L905.0,306.8 L911.8,306.8 L919.9,306.7 L929.0,306.7 L938.9,306.7 L949.3,306.7 L960.0,306.7 L972.2,306.7 L986.1,306.7 L1000.7,306.7 L1014.5,306.7 L1026.2,306.7 L1034.5,306.7" fill="none" stroke="#e4203a" stroke-width="1.5" stroke-linejoin="round" opacity="1"/>
<path d="M709.5,524.0 L709.5,522.5 L709.6,520.3 L709.6,517.8 L709.6,515.1 L709.7,512.5 L709.7,510.0 L709.7,507.8 L709.7,505.6 L709.7,503.5 L709.7,501.4 L709.8,499.1 L709.9,496.7 L710.1,494.1 L710.4,491.4 L710.7,488.6 L711.0,485.7 L711.4,482.8 L711.9,480.0 L712.4,477.2 L713.0,474.4 L713.6,471.6 L714.3,468.9 L715.1,466.1 L716.0,463.3 L717.0,460.5 L718.2,457.6 L719.4,454.7 L720.7,451.9 L722.0,449.2 L723.3,446.7 L724.6,444.5 L725.9,442.5 L727.2,440.7 L728.6,438.9 L730.0,437.1 L731.7,435.2 L733.5,433.2 L735.6,431.1 L737.7,428.9 L739.9,426.8 L742.1,424.7 L744.2,422.7 L746.3,420.7 L748.4,418.8 L750.5,417.0 L752.5,415.1 L754.6,413.2 L756.7,411.2 L758.8,409.3 L760.9,407.3 L763.0,405.3 L765.0,403.3 L767.1,401.1 L769.2,398.8 L771.4,396.2 L773.6,393.5 L775.8,390.7 L778.0,387.8 L780.0,384.9 L781.7,382.0 L783.1,379.2 L784.3,376.3 L785.3,373.5 L786.2,370.7 L787.2,367.8 L788.3,365.0 L789.6,362.2 L791.0,359.3 L792.5,356.5 L794.0,353.7 L795.4,351.0 L796.7,348.3 L797.9,345.7 L799.1,343.0 L800.3,340.5 L801.3,338.0 L802.4,335.6 L803.3,333.3 L804.2,331.1 L804.9,329.0 L805.7,327.0 L806.3,325.1 L806.9,323.3 L807.5,321.7 L808.0,320.3 L808.4,319.0 L808.8,317.9 L809.2,316.8 L809.6,315.9 L810.0,315.0 L810.5,314.2 L811.0,313.4 L811.6,312.8 L812.2,312.2 L812.7,311.7 L813.3,311.3 L813.8,311.0 L814.2,310.8 L814.6,310.6 L815.0,310.5 L815.7,310.5 L816.5,310.4 L817.5,310.3 L818.7,310.3 L820.0,310.3 L821.5,310.3 L823.1,310.3 L825.0,310.3 L827.2,310.3 L829.8,310.3 L832.6,310.3 L835.4,310.3 L837.9,310.3 L840.0,310.3 L841.6,310.3 L842.9,310.3 L844.0,310.3 L844.9,310.4 L845.8,310.5 L846.7,310.6 L847.6,310.8 L848.5,311.0 L849.4,311.3 L850.2,311.6 L850.9,312.0 L851.7,312.5 L852.4,313.0 L853.2,313.6 L853.9,314.2 L854.5,314.9 L855.2,315.7 L855.8,316.7 L856.4,317.8 L857.0,319.1 L857.6,320.5 L858.2,322.0 L858.7,323.5 L859.2,325.0 L859.7,326.5 L860.1,328.1 L860.5,329.7 L860.8,331.4 L861.2,333.1 L861.7,335.0 L862.2,337.0 L862.7,339.2 L863.3,341.5 L863.9,343.9 L864.4,346.1 L865.0,348.3 L865.5,350.3 L866.1,352.3 L866.6,354.1 L867.1,356.0 L867.7,358.0 L868.3,360.0 L868.9,362.1 L869.6,364.3 L870.3,366.4 L871.1,368.7 L871.8,371.0 L872.5,373.3 L873.2,375.7 L873.8,378.0 L874.5,380.5 L875.1,383.0 L875.9,385.6 L876.7,388.3 L877.7,391.2 L878.8,394.2 L880.0,397.4 L881.1,400.6 L882.3,403.7 L883.3,406.7 L884.2,409.6 L885.0,412.3 L885.7,415.0 L886.4,417.7 L887.3,420.4 L888.3,423.3 L889.5,426.3 L890.9,429.4 L892.3,432.5 L893.8,435.6 L895.3,438.7 L896.7,441.7 L898.1,444.6 L899.5,447.5 L900.9,450.3 L902.2,453.1 L903.6,455.7 L905.0,458.3 L906.4,460.8 L907.8,463.1 L909.1,465.4 L910.5,467.6 L911.9,469.7 L913.3,471.7 L914.7,473.6 L916.1,475.4 L917.5,477.2 L918.9,478.8 L920.3,480.3 L921.7,481.7 L923.1,482.9 L924.4,484.0 L925.8,485.0 L927.1,485.9 L928.5,486.7 L930.0,487.5 L931.5,488.2 L933.0,488.9 L934.6,489.4 L936.2,489.9 L938.0,490.4 L940.0,490.8 L942.2,491.1 L944.6,491.4 L947.1,491.6 L949.7,491.8 L952.3,491.9 L955.0,492.0 L957.6,492.0 L960.1,491.9 L962.7,491.8 L965.5,491.7 L968.4,491.5 L971.7,491.3 L975.2,491.1 L978.9,490.9 L982.9,490.6 L987.1,490.4 L991.7,490.1 L996.7,489.7 L1002.7,489.2 L1009.8,488.7 L1017.2,488.1 L1024.2,487.5 L1030.2,487.0 L1034.5,486.7" fill="none" stroke="#2f2fd0" stroke-width="1.5" stroke-linejoin="round" opacity="1"/>
</g>
<polygon points="937.1,381 953.1,381 959.4,393.1 985,347.3 1001,346.7 966.3,407.7 951.7,407.7" fill="#6ab523"/>
<text x="871.1" y="299.2" font-family="Liberation Serif, serif" font-weight="bold" font-size="13.85" text-anchor="middle" fill="#111">Measured Data Versus Simulated Results</text>
<text x="695.9" y="311.40000000000003" font-size="10.5" text-anchor="end" fill="#1a1a1a">0</text>
<text x="695.9" y="365.75000000000006" font-size="10.5" text-anchor="end" fill="#1a1a1a">-20</text>
<text x="695.9" y="420.1" font-size="10.5" text-anchor="end" fill="#1a1a1a">-40</text>
<text x="695.9" y="474.45000000000005" font-size="10.5" text-anchor="end" fill="#1a1a1a">-60</text>
<text x="695.9" y="528.8" font-size="10.5" text-anchor="end" fill="#1a1a1a">-80</text>
<text x="1047.6" y="311.40000000000003" font-size="10.5" text-anchor="start" fill="#1a1a1a">0</text>
<text x="1047.6" y="365.75000000000006" font-size="10.5" text-anchor="start" fill="#1a1a1a">-10</text>
<text x="1047.6" y="420.1" font-size="10.5" text-anchor="start" fill="#1a1a1a">-20</text>
<text x="1047.6" y="474.45000000000005" font-size="10.5" text-anchor="start" fill="#1a1a1a">-30</text>
<text x="1047.6" y="528.8" font-size="10.5" text-anchor="start" fill="#1a1a1a">-40</text>
<text x="708.4" y="544.5" font-size="10.5" text-anchor="middle" fill="#1a1a1a">0</text>
<text x="773.38" y="544.5" font-size="10.5" text-anchor="middle" fill="#1a1a1a">0.5</text>
<text x="838.36" y="544.5" font-size="10.5" text-anchor="middle" fill="#1a1a1a">1</text>
<text x="903.3399999999999" y="544.5" font-size="10.5" text-anchor="middle" fill="#1a1a1a">1.5</text>
<text x="968.3199999999999" y="544.5" font-size="10.5" text-anchor="middle" fill="#1a1a1a">2</text>
<text x="1033.3" y="544.5" font-size="10.5" text-anchor="middle" fill="#1a1a1a">2.5</text>
<text x="871" y="558.6" font-size="10.7" text-anchor="middle" fill="#1a1a1a">Frequency (GHz)</text>
<text transform="translate(665.6,414.6) rotate(-90)" font-size="10.9" text-anchor="middle" fill="#1a1a1a">Insertion Loss</text>
<text transform="translate(1087,414.6) rotate(-90)" font-size="10.9" text-anchor="middle" fill="#1a1a1a">Return Loss</text>
</svg>
<!--CHARTS_END-->

<div id="tip" class="abs"><span>Chris DeMartino разговаривает...</span></div>

<div id="taskbar" class="abs"></div>
<div id="search" class="abs"></div>
<!--CHROME_BEGIN-->
<svg id="chrome" class="abs" style="left:0;top:0" width="1280" height="720" viewBox="0 0 1280 720" font-family="Liberation Sans, sans-serif">
<clipPath id="cw1"><rect x="1020" y="600" width="197" height="42"/></clipPath>
<clipPath id="cw2"><rect x="1020" y="642" width="197" height="44"/></clipPath>
<path d="M1026,642 L1026.1,641.3 L1027.6,643.7 L1029.1,646.0 L1030.6,648.2 L1032.1,650.3 L1033.6,652.2 L1035.1,654.0 L1036.6,655.5 L1038.1,656.8 L1039.6,657.7 L1041.1,658.4 L1042.6,658.8 L1044.1,658.9 L1045.6,658.6 L1047.1,658.1 L1048.6,657.2 L1050.1,656.1 L1051.6,654.7 L1053.1,653.0 L1054.6,651.2 L1056.1,649.1 L1057.6,646.9 L1059.1,644.7 L1060.6,642.3 L1062.1,640.0 L1063.6,637.6 L1065.1,635.4 L1066.6,633.2 L1068.1,631.2 L1069.6,629.4 L1071.1,627.7 L1072.6,626.4 L1074.1,625.2 L1075.6,624.4 L1077.1,623.9 L1078.6,623.7 L1080.1,623.8 L1081.6,624.2 L1083.1,625.0 L1084.6,626.0 L1086.1,627.3 L1087.6,628.8 L1089.1,630.6 L1090.6,632.6 L1092.1,634.7 L1093.6,636.9 L1095.1,639.3 L1096.6,641.6 L1098.1,644.0 L1099.6,646.3 L1101.1,648.5 L1102.6,650.6 L1104.1,652.5 L1105.6,654.2 L1107.1,655.7 L1108.6,656.9 L1110.1,657.9 L1111.6,658.5 L1113.1,658.8 L1114.6,658.9 L1116.1,658.6 L1117.6,658.0 L1119.1,657.1 L1120.6,655.9 L1122.1,654.5 L1123.6,652.8 L1125.1,650.9 L1126.6,648.8 L1128.1,646.6 L1129.6,644.4 L1131.1,642.0 L1132.6,639.7 L1134.1,637.3 L1135.6,635.1 L1137.1,632.9 L1138.6,630.9 L1140.1,629.1 L1141.6,627.5 L1143.1,626.2 L1144.6,625.1 L1146.1,624.3 L1147.6,623.9 L1149.1,623.7 L1150.6,623.9 L1152.1,624.3 L1153.6,625.1 L1155.1,626.2 L1156.6,627.5 L1158.1,629.1 L1159.6,630.9 L1161.1,632.9 L1162.6,635.0 L1164.1,637.2 L1165.6,639.6 L1167.1,641.9 L1168.6,644.3 L1170.1,646.6 L1171.6,648.8 L1173.1,650.8 L1174.6,652.7 L1176.1,654.4 L1177.6,655.9 L1179.1,657.1 L1180.6,658.0 L1182.1,658.6 L1183.6,658.9 L1185.1,658.9 L1186.6,658.5 L1188.1,657.9 L1189.6,656.9 L1191.1,655.7 L1192.6,654.2 L1194.1,652.5 L1195.6,650.6 L1197.1,648.5 L1198.6,646.3 L1200.1,644.0 L1201.6,641.7 L1203.1,639.3 L1204.6,637.0 L1206.1,634.8 L1207.6,632.6 L1209.1,630.7 L1210.6,628.9 L1212.1,627.3 L1213.6,626.0 L1215.1,625.0 L1216.6,624.3 L1217.0,624.1 L1217,642 Z" fill="#000" clip-path="url(#cw1)"/>
<path d="M1026,642 L1026.1,641.3 L1027.6,643.7 L1029.1,646.0 L1030.6,648.2 L1032.1,650.3 L1033.6,652.2 L1035.1,654.0 L1036.6,655.5 L1038.1,656.8 L1039.6,657.7 L1041.1,658.4 L1042.6,658.8 L1044.1,658.9 L1045.6,658.6 L1047.1,658.1 L1048.6,657.2 L1050.1,656.1 L1051.6,654.7 L1053.1,653.0 L1054.6,651.2 L1056.1,649.1 L1057.6,646.9 L1059.1,644.7 L1060.6,642.3 L1062.1,640.0 L1063.6,637.6 L1065.1,635.4 L1066.6,633.2 L1068.1,631.2 L1069.6,629.4 L1071.1,627.7 L1072.6,626.4 L1074.1,625.2 L1075.6,624.4 L1077.1,623.9 L1078.6,623.7 L1080.1,623.8 L1081.6,624.2 L1083.1,625.0 L1084.6,626.0 L1086.1,627.3 L1087.6,628.8 L1089.1,630.6 L1090.6,632.6 L1092.1,634.7 L1093.6,636.9 L1095.1,639.3 L1096.6,641.6 L1098.1,644.0 L1099.6,646.3 L1101.1,648.5 L1102.6,650.6 L1104.1,652.5 L1105.6,654.2 L1107.1,655.7 L1108.6,656.9 L1110.1,657.9 L1111.6,658.5 L1113.1,658.8 L1114.6,658.9 L1116.1,658.6 L1117.6,658.0 L1119.1,657.1 L1120.6,655.9 L1122.1,654.5 L1123.6,652.8 L1125.1,650.9 L1126.6,648.8 L1128.1,646.6 L1129.6,644.4 L1131.1,642.0 L1132.6,639.7 L1134.1,637.3 L1135.6,635.1 L1137.1,632.9 L1138.6,630.9 L1140.1,629.1 L1141.6,627.5 L1143.1,626.2 L1144.6,625.1 L1146.1,624.3 L1147.6,623.9 L1149.1,623.7 L1150.6,623.9 L1152.1,624.3 L1153.6,625.1 L1155.1,626.2 L1156.6,627.5 L1158.1,629.1 L1159.6,630.9 L1161.1,632.9 L1162.6,635.0 L1164.1,637.2 L1165.6,639.6 L1167.1,641.9 L1168.6,644.3 L1170.1,646.6 L1171.6,648.8 L1173.1,650.8 L1174.6,652.7 L1176.1,654.4 L1177.6,655.9 L1179.1,657.1 L1180.6,658.0 L1182.1,658.6 L1183.6,658.9 L1185.1,658.9 L1186.6,658.5 L1188.1,657.9 L1189.6,656.9 L1191.1,655.7 L1192.6,654.2 L1194.1,652.5 L1195.6,650.6 L1197.1,648.5 L1198.6,646.3 L1200.1,644.0 L1201.6,641.7 L1203.1,639.3 L1204.6,637.0 L1206.1,634.8 L1207.6,632.6 L1209.1,630.7 L1210.6,628.9 L1212.1,627.3 L1213.6,626.0 L1215.1,625.0 L1216.6,624.3 L1217.0,624.1 L1217,642 Z" fill="#fff" clip-path="url(#cw2)"/>
<text x="1149" y="660.6" font-size="13.6" fill="#fff" text-anchor="middle">17</text>
<g fill="#8a8a8a" fill-opacity="0.56">
<text x="948" y="616.6" font-size="16.4" textLength="153" lengthAdjust="spacingAndGlyphs">Активация Windows</text>
<text x="948" y="635.2" font-size="11.6" textLength="279" lengthAdjust="spacingAndGlyphs">Чтобы активировать Windows, перейдите в раздел</text>
<text x="948" y="651.6" font-size="11.6" textLength="74" lengthAdjust="spacingAndGlyphs">"Параметры".</text>
</g>
<g fill="none" stroke="#fff" stroke-width="1.5" stroke-linejoin="miter">
<path d="M116.6,663.4 L118.6,658.9 H97.6 L91.2,662.6 L88.9,670.6 H113.2 L115,666.6" stroke-width="1.7"/>
<path d="M100.4,655.6 V658.9 M111.2,655.6 V658.9 M87,661.6 H94.6 M85,667.8 H90.6 M94.1,670.6 V674 M104.8,670.6 V674" stroke-width="1.3"/>
<circle cx="100.4" cy="653.7" r="1.9"/>
<circle cx="111.2" cy="653.7" r="1.9"/>
<circle cx="85" cy="661.6" r="1.9"/>
<circle cx="83.1" cy="667.8" r="1.9"/>
<circle cx="94.1" cy="676" r="1.9"/>
<circle cx="104.8" cy="676" r="1.9"/>
</g>
<g transform="translate(116.3,676.9) scale(1.125,1)" font-family="DejaVu Sans, Liberation Sans, sans-serif" font-weight="bold" font-style="oblique" font-size="32" fill="#fff" stroke="#fff" stroke-width="1.2"><text x="0" y="0">Mode</text><text x="101.6" y="0">l</text></g>
<text x="243.8" y="677.5" font-family="DejaVu Sans, Liberation Sans, sans-serif" font-weight="bold" font-style="oblique" font-size="33" fill="#fff" textLength="103" lengthAdjust="spacingAndGlyphs">ithics</text>
<text x="345.6" y="670.4" font-size="14.6" font-weight="bold" fill="#fff">®</text>
<g fill="none" stroke="#cfcfcf" stroke-width="1.1">
<path d="M1178.8,17.5 H1188.2"/>
<rect x="1217" y="14.3" width="8" height="8" rx="1.8"/>
<path d="M1219.3,14.3 V13.6 Q1219.3,12 1221,12 H1225.5 Q1227.2,12 1227.2,13.7 V18.2 Q1227.2,20 1225.5,20 H1225"/>
<path d="M1254.8,12.6 L1264.2,22.2 M1264.2,12.6 L1254.8,22.2"/>
</g>
<rect x="278.5" y="686" width="1001.5" height="1" fill="#4a4a4a"/>
<rect x="0" y="686" width="38" height="1" fill="#2a2a2a"/>
<rect x="13.4" y="697.4" width="5.5" height="5.7" fill="#4aa0ea"/>
<rect x="21.2" y="698.8" width="4.8" height="4.8" fill="#f4f4f4"/>
<rect x="14.4" y="705.4" width="4.8" height="4.8" fill="#f4f4f4"/>
<rect x="21.2" y="705.4" width="4.6" height="4.6" fill="#f4f4f4"/>
<circle cx="58" cy="702" r="4.3" fill="none" stroke="#3a3a3a" stroke-width="1.3"/>
<path d="M55,705.2 L49.4,709.8" stroke="#3a3a3a" stroke-width="1.4"/>
<text x="72.3" y="707.6" font-size="12.6" fill="#3d3d3d" textLength="35.6" lengthAdjust="spacingAndGlyphs">Поиск</text>
<clipPath id="cs"><rect x="38" y="686" width="240.5" height="34"/></clipPath>
<g clip-path="url(#cs)">
<path d="M222,709 L224,703.5 L229,700.2 L236,698.2 L241,695.2 L246,692.6 L249,691.6 L252,693.6 L256,696.6 L259,698.6 L262,697.2 L268,696.8 L273,695.4 L276,694.8 L279,696 L279,710 Z" fill="#d9772f"/>
<path d="M246,692.6 L249,691.6 L252,693.6 L256,696.6 L259,698.6 L262,697.2 L268,696.8 L273,695.4 L276,694.8 L279,696 L279,699 L272,698.4 L262,700 L258,701.5 L254,698 L250,694.5 Z" fill="#8a4a3a"/>
<path d="M228,701 L236,698.4 L240,707 L230,708 Z" fill="#ee9a3c"/><path d="M244,694.5 L249,692 L254,707 L246,707 Z" fill="#c65f2a"/><path d="M262,700 L272,699 L276,707 L264,707 Z" fill="#eb9440"/>
<rect x="221" y="706.6" width="58" height="2.4" fill="#9c4a55"/>
<path d="M214,720 Q216,710 224,708.6 L279,708.6 L279,720 Z" fill="#7c9b2c"/>
<path d="M214,720 Q216,711 223,709.4 L226,712 Q220,715 219,720 Z" fill="#b59a52"/>
<ellipse cx="236" cy="715" rx="6" ry="3.4" fill="#a7b53a"/><ellipse cx="254" cy="716" rx="7" ry="3.2" fill="#97ad36"/><ellipse cx="271" cy="714.5" rx="5" ry="3.2" fill="#a3b840"/><ellipse cx="245" cy="711" rx="5" ry="2" fill="#5f8426"/><ellipse cx="263" cy="711" rx="5" ry="2" fill="#628726"/>
</g>
<g fill="none" stroke="#e6e6e6" stroke-width="1.2">
<path d="M293,697.2 H302.6 M293,709 H302.6 M294.2,699.6 H301.4 V706.6 H294.2 Z M305.8,697 V700 M305.8,702.4 V709.4"/>
</g>
<g>
<ellipse cx="341.6" cy="700.4" rx="7.8" ry="5.2" transform="rotate(-28 341.6 700.4)" fill="#efeaea" stroke="#c0392b" stroke-width="1.1"/>
<path d="M334.5,703.5 Q338,708 344,704.5" fill="#b9a9a9" stroke="none"/>
<path d="M340.5,697 L346.5,707" stroke="#d84a3a" stroke-width="1.2"/>
<circle cx="344.2" cy="708" r="2.3" fill="none" stroke="#2f8fe0" stroke-width="1.5"/><circle cx="349.2" cy="705.4" r="2.3" fill="none" stroke="#2f8fe0" stroke-width="1.5"/>
<path d="M343,698.5 L347.6,703.6 M346.6,697.6 L345.2,705.6" stroke="#3b9be8" stroke-width="1.1"/>
</g>
<g>
<path d="M374.4,692.8 H393.8 V712.2 H376.4 L374.4,710.2 Z" fill="#2d50c4"/>
<rect x="378.2" y="692.8" width="11.6" height="6.2" fill="#dfe4f2"/><rect x="385.6" y="693.6" width="2.6" height="4.6" fill="#2d50c4"/>
<rect x="377" y="702" width="14.4" height="10.2" fill="#f3d3da"/>
<path d="M378.6,705 H389.8 M378.6,707.6 H389.8 M378.6,710 H389.8" stroke="#d9a5b2" stroke-width="0.8"/>
</g>
<g>
<path d="M415.6,694.4 H423 L425,696.4 H434.6 V710.4 H415.6 Z" fill="#f2b63a"/>
<path d="M415.6,699 H434.6 V710.6 H415.6 Z" fill="#fbd766"/>
<path d="M420,710.6 V705 H430.4 V710.6 H428 V707.2 H422.4 V710.6 Z" fill="#3f8fdc"/>
<rect x="409.4" y="718" width="33.2" height="2" fill="#8fbcec"/>
</g>
<g>
<rect x="464.4" y="694" width="11.4" height="17.6" rx="0.8" fill="#f4f6fb"/>
<path d="M467,697.4 H474 M467,700.4 H474 M467,703.4 H474 M467,706.4 H474 M467,709 H474" stroke="#3a66b8" stroke-width="0.9"/>
<rect x="457.2" y="696.4" width="11.2" height="12.8" fill="#2a5bb5"/>
<text x="462.8" y="706.6" font-size="9.6" font-weight="bold" fill="#fff" text-anchor="middle">W</text>
</g>
<g>
<circle cx="508.5" cy="702.6" r="10.3" fill="#1f7fd6"/>
<path d="M498.6,699.5 A10.3,10.3 0 0 1 518.6,700.6 Q519,705 513.5,705.6 Q509.5,705.6 510.5,702.5 Q511,699.6 507.6,698.4 Q502,697.2 498.6,699.5 Z" fill="#4fd0a0"/>
<path d="M500,708.6 Q497.4,703.6 500.6,699.6 Q504.4,696.6 508.6,698.6 Q503.6,700.6 504.6,705.6 Q506,710.8 512,711.6 Q505,714 500,708.6 Z" fill="#0f5fb0"/>
<circle cx="502.8" cy="707.6" r="4.4" fill="#d9d3c8"/><circle cx="502.8" cy="706.4" r="1.7" fill="#8a7a6a"/><path d="M499.8,710.6 Q502.8,707.4 505.8,710.6 Z" fill="#8a7a6a"/>
</g>
<g>
<circle cx="549" cy="701.6" r="10.2" fill="#e34133"/>
<path d="M549,701.6 L540.2,696.5 A10.2,10.2 0 0 0 549,711.8 L554.2,704.6 Z" fill="#2fa24f"/>
<path d="M549,701.6 L557.8,701.6 L559,699.5 A10.2,10.2 0 0 1 549,711.8 Z" fill="#f8c21c"/>
<circle cx="549" cy="701.6" r="4.6" fill="#f1f1f1"/><circle cx="549" cy="701.6" r="3.6" fill="#4a8af4"/>
<circle cx="556" cy="707.8" r="5.4" fill="#d81b60"/>
<text x="556" y="710.6" font-size="7.6" font-weight="bold" fill="#fff" text-anchor="middle">H</text>
<rect x="533" y="718" width="34" height="2" fill="#8fbcec"/>
</g>
<g>
<rect x="571" y="687" width="39.4" height="33" fill="#3a3a3a"/>
<rect x="571" y="718" width="39.4" height="2" fill="#8fbcec"/>
<rect x="581" y="692.4" width="19.6" height="19.6" rx="8" fill="#1f6bf0"/>
<text x="590.8" y="704" font-size="5.6" font-weight="bold" fill="#fff" text-anchor="middle" textLength="12.4" lengthAdjust="spacingAndGlyphs">zoom</text>
</g>
<g>
<rect x="927.8" y="693.4" width="4.4" height="13" rx="2.2" fill="#d9ecff" stroke="#3b8fe8" stroke-width="1.2"/>
<circle cx="930" cy="708.4" r="3.8" fill="#2f7fe0"/><rect x="929" y="699" width="2" height="8" fill="#2f7fe0"/>
<path d="M937.6,711 V698.4 M935,700.8 L937.6,697.8 L940.2,700.8" stroke="#e8502a" stroke-width="1.6" fill="none"/><rect x="935.2" y="694.2" width="4.8" height="1.6" fill="#e8502a"/>
</g>
<text x="949" y="708.8" font-size="12.6" fill="#fff" textLength="63.6" lengthAdjust="spacingAndGlyphs">Record high</text>
<g fill="none" stroke="#e8e8e8" stroke-width="1.1">
<path d="M1033.6,706.4 L1038.8,701 L1044,706.4"/>
<rect x="1054.4" y="699.2" width="6.4" height="6.2" rx="1.4"/><path d="M1060.8,701.2 L1063.4,699.8 V705 L1060.8,703.6 M1055.4,697.6 H1060 M1055.4,707.4 H1060"/>
</g>
<path d="M1075.2,708 a3.3,3.3 0 0 1 0.2,-6.5 a4.2,4.2 0 0 1 8,-0.8 a3.6,3.6 0 0 1 -0.6,7.3 Z" fill="#ececec"/>
<g><rect x="1094" y="700.4" width="11" height="6.6" fill="#e6e6e6"/><rect x="1092.6" y="702.2" width="1.4" height="3" fill="#e6e6e6"/><rect x="1097.4" y="701.6" width="6.4" height="4.2" fill="#555"/><path d="M1093.2,697 V700 M1095.8,697 V700 M1092.4,699.4 H1096.6" stroke="#e6e6e6" stroke-width="1"/></g>
<g fill="none" stroke="#d8d8d8" stroke-width="1.1"><path d="M1114.4,709.8 A9.6,9.6 0 0 1 1124,700.2 M1117.2,709.8 A6.8,6.8 0 0 1 1124,703 M1120,709.8 A4,4 0 0 1 1124,705.8"/><circle cx="1123.2" cy="709" r="0.9" fill="#d8d8d8"/></g>
<g fill="none" stroke="#e6e6e6" stroke-width="1.1"><path d="M1132.4,701.8 H1134.6 L1137.8,698.8 V710 L1134.6,707 H1132.4 Z"/><path d="M1140,701.6 Q1141.8,704.4 1140,707.2 M1142.4,699.8 Q1145,704.4 1142.4,709 M1144.8,698.2 Q1148,704.4 1144.8,710.6"/></g>
<text x="1154.6" y="708.4" font-size="10" fill="#fff" textLength="17.4" lengthAdjust="spacingAndGlyphs">РУС</text>
<text x="1207.4" y="698.8" font-size="9.6" fill="#fff" text-anchor="middle" textLength="22.8" lengthAdjust="spacingAndGlyphs">17:16</text>
<text x="1207.6" y="714" font-size="9.6" fill="#fff" text-anchor="middle" textLength="45.4" lengthAdjust="spacingAndGlyphs">18.03.2025</text>
<g><path d="M1246.6,697 H1258.6 V707 H1250.6 L1247.6,710 V707 H1246.6 Z" fill="#f2f2f2"/><path d="M1248.8,699.6 H1256.4 M1248.8,701.8 H1256.4 M1248.8,704 H1254" stroke="#555" stroke-width="0.8"/><circle cx="1259.6" cy="709" r="4.8" fill="#2a2a2a" stroke="#cfcfcf" stroke-width="0.9"/><text x="1259.6" y="712" font-size="8" fill="#fff" text-anchor="middle">1</text></g>
</svg>
<!--CHROME_END-->
</body>
</html>
